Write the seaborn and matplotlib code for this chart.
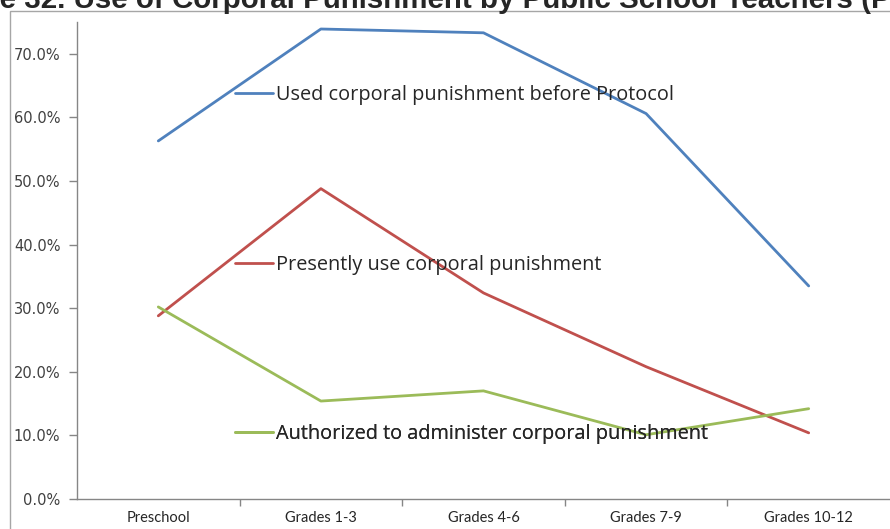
import numpy as np
import pandas as pd
import seaborn as sns
import matplotlib.pyplot as plt
from matplotlib.lines import Line2D
from matplotlib.patches import Rectangle
from matplotlib.ticker import PercentFormatter

# data
grades = ["Preschool", "Grades 1-3", "Grades 4-6", "Grades 7-9", "Grades 10-12"]
used_before = [56.3, 73.9, 73.3, 60.6, 33.5]
presently_use = [28.8, 48.8, 32.4, 20.8, 10.4]
authorized = [30.2, 15.4, 17.0, 10.1, 14.2]

series_names = ["Used corporal punishment before Protocol",
                "Presently use corporal punishment",
                "Authorized to administer corporal punishment"]
colors = ["#4F81BD", "#C0504D", "#9BBB59"]
title = "Figure 32. Use of Corporal Punishment by Public School Teachers (Percent)"

df = pd.DataFrame({
    "grade": grades * 3,
    "pct": np.array(used_before + presently_use + authorized) / 100,
    "series": [s for s in series_names for _ in grades],
})

sns.set_style("white")
plt.rcParams["font.family"] = ["DejaVu Sans"]

fig = plt.figure(figsize=(8.9, 5.29), dpi=100)
ax = fig.add_axes([77 / 890, 1 - 499 / 529, 1 - 77 / 890, (499 - 22) / 529])

sns.lineplot(data=df, x="grade", y="pct", hue="series", palette=colors,
             sort=False, linewidth=2, legend=False, ax=ax)

ax.set_xlim(-0.5, 4.5)
ax.set_ylim(0, 0.75)
ax.set_yticks(np.arange(0, 0.71, 0.1))
ax.yaxis.set_major_formatter(PercentFormatter(1.0, decimals=1))
ax.set_xticks(range(5))
ax.set_xticklabels(grades, fontfamily="Lato", fontsize=10.5, color="#262626")
ax.set_xticks([0.5, 1.5, 2.5, 3.5], minor=True)
ax.tick_params(axis="x", which="major", length=0, pad=9)
ax.tick_params(axis="x", which="minor", length=5, color="#868686", width=1,
               direction="out", bottom=True)
ax.tick_params(axis="y", length=6, color="#868686", width=1, direction="out",
               left=True, labelsize=10.5, labelcolor="#404040", pad=6)
ax.set_xlabel("")
ax.set_ylabel("")
for side in ["top", "right"]:
    ax.spines[side].set_visible(False)
for side in ["left", "bottom"]:
    ax.spines[side].set_color("#868686")
    ax.spines[side].set_linewidth(1)

# in-chart series labels with a short line sample
label_pos = [(0.194, 0.847), (0.194, 0.4906), (0.194, 0.136)]
for name, c, pos in zip(series_names, colors, label_pos):
    h = Line2D([], [], color=c, linewidth=2)
    leg = ax.legend([h], [name], loc="center left", bbox_to_anchor=pos,
                    frameon=False, borderpad=0, borderaxespad=0,
                    handlelength=1.95, handletextpad=0.15,
                    prop={"family": "Open Sans", "size": 14.3})
    for t in leg.get_texts():
        t.set_color("#262626")
    ax.add_artist(leg)

# chart frame
fig.add_artist(Rectangle((9.5 / 890, -0.1), 1.2, 0.1 + 1 - 11 / 529,
                         transform=fig.transFigure, fill=False,
                         edgecolor="#a6a6a6", linewidth=1))

# title is cropped in the source: size it so "e 32. ... (P" spans the width
renderer = fig.canvas.get_renderer()
def text_w(s, size):
    t = fig.text(0, 0, s, fontfamily="Liberation Sans", fontweight="bold", fontsize=size)
    w = t.get_window_extent(renderer).width
    t.remove()
    return w

visible = title[title.index("e 32"):title.index("(P") + 2]
size = 20 * 893 / text_w(visible, 20)
offset = text_w("Figur", size)
fig.text(-offset / 890, 1 - 8 / 529, title, fontfamily="Liberation Sans",
         fontweight="bold", fontsize=size, va="baseline", ha="left")

fig.savefig("out.png", dpi=100)
